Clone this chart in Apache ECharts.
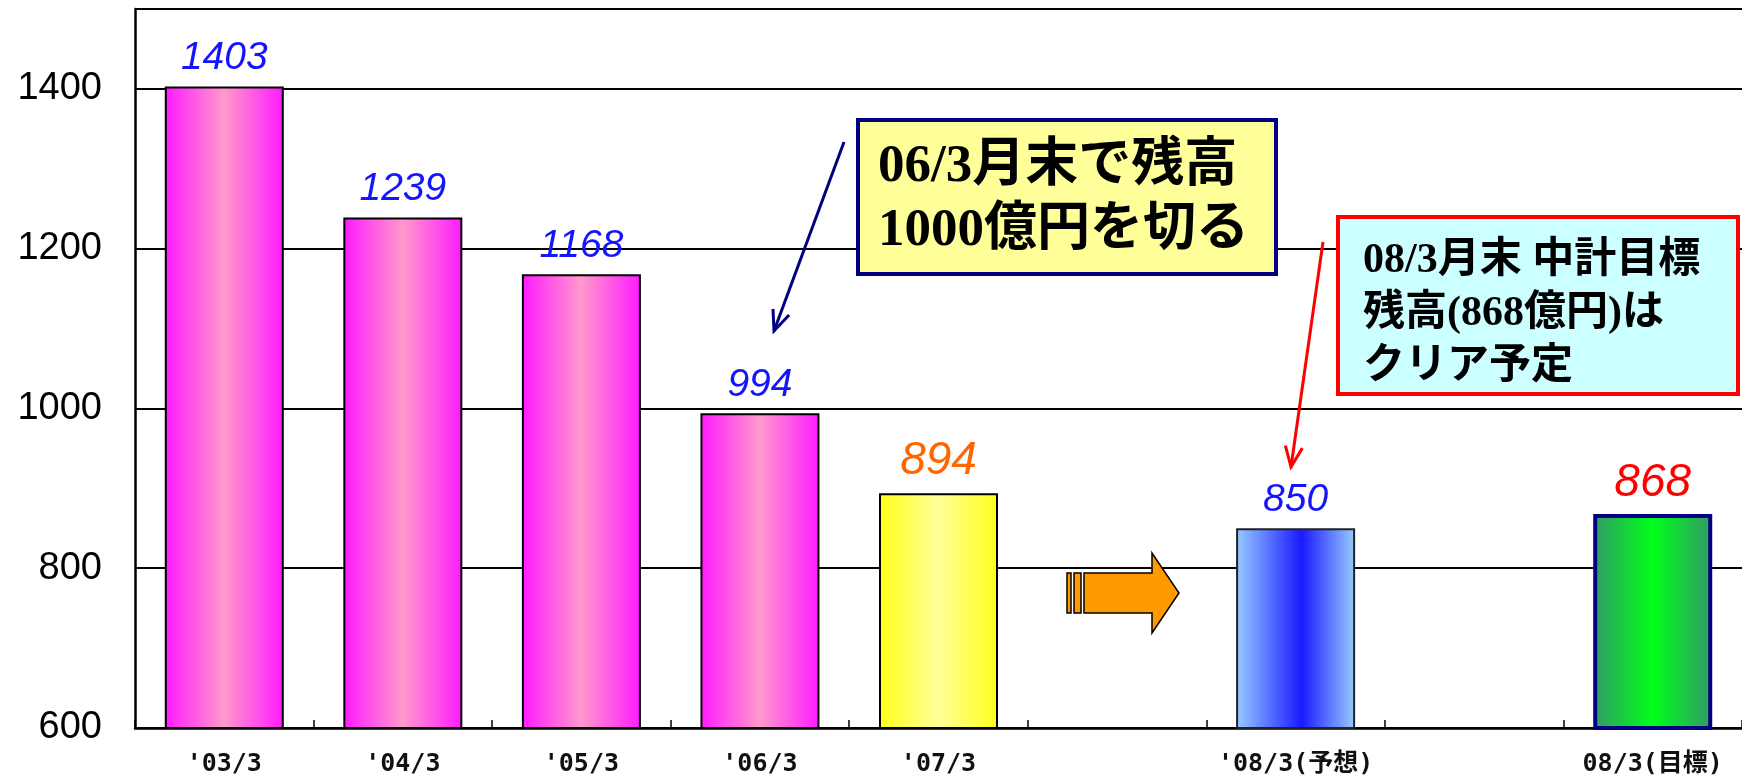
<!DOCTYPE html>
<html>
<head>
<meta charset="utf-8">
<script src="https://cdn.jsdelivr.net/npm/echarts@6/dist/echarts.min.js"></script>
<style>
  html, body { margin: 0; padding: 0; background: #fff; }
  #chart { width: 1742px; height: 783px; }
</style>
</head>
<body>
<div id="chart"></div>
<script>
// 残高（億円）
const categories = ["'03/3", "'04/3", "'05/3", "'06/3", "'07/3", "", "'08/3(予想)", "", "08/3(目標)"];
const balances = [1403, 1239, 1168, 994, 894, '-', 850, '-', 868];
const yTicks = [600, 800, 1000, 1200, 1400];

const note1 = '06/3月末で残高\n1000億円を切る';
const note2 = '08/3月末 中計目標\n残高(868億円)は\nクリア予定';

// horizontal gradient, light/dark in the middle of the bar
const grad = (edge, mid, pos) => new echarts.graphic.LinearGradient(0, 0, 1, 0, [
  { offset: 0, color: edge },
  { offset: pos, color: mid },
  { offset: 1, color: edge }
]);

const pink = { color: grad('#ff1aff', '#ff99cc', 0.5), borderColor: '#000', borderWidth: 2 };
const yellow = { color: grad('#ffff1a', '#ffff99', 0.5), borderColor: '#000', borderWidth: 2 };
const blue = { color: grad('#99ccff', '#1a1aff', 0.55), borderColor: '#222', borderWidth: 2 };
const green = { color: grad('#339966', '#00ff1a', 0.5), borderColor: '#000080', borderWidth: 4 };
const barLooks = [pink, pink, pink, pink, yellow, null, blue, null, green];

const lblBase = { show: true, position: 'top', fontStyle: 'italic', fontFamily: '"Liberation Sans", Arial, sans-serif' };
const lblBlue = { ...lblBase, color: '#1414ff', fontSize: 39, distance: 9 };
const lblOrange = { ...lblBase, color: '#ff6600', fontSize: 46, distance: 9 };
const lblRed = { ...lblBase, color: '#ff0000', fontSize: 46, distance: 8 };
const labelLooks = [lblBlue, lblBlue, lblBlue, lblBlue, lblOrange, null, lblBlue, null, lblRed];

const data = balances.map((v, i) => {
  if (v === '-') return '-';
  return { value: v, itemStyle: barLooks[i], label: labelLooks[i] };
});

// open arrow head at (x2,y2)
function arrowHead(x1, y1, x2, y2, len, ang) {
  const a = Math.atan2(y2 - y1, x2 - x1);
  return [
    [x2 - len * Math.cos(a - ang), y2 - len * Math.sin(a - ang)],
    [x2, y2],
    [x2 - len * Math.cos(a + ang), y2 - len * Math.sin(a + ang)]
  ];
}

const jpFont = '"Liberation Serif", "Noto Sans CJK JP", serif';

let chart = echarts.init(document.getElementById('chart'));
chart.setOption({
  backgroundColor: '#fff',
  animation: false,
  grid: { left: 135, top: 9, width: 1615, bottom: 55, containLabel: false },
  xAxis: {
    type: 'category',
    data: categories,
    axisLine: { lineStyle: { color: '#000', width: 2.5 } },
    axisTick: { show: true, inside: true, length: 8, lineStyle: { color: '#000', width: 1.5 } },
    axisLabel: {
      interval: 0,
      margin: 24,
      color: '#111',
      fontSize: 25,
      fontWeight: 'bold',
      fontFamily: '"DejaVu Sans Mono", "Noto Sans CJK JP", monospace'
    }
  },
  yAxis: {
    type: 'value',
    min: 600,
    max: 1500,
    interval: 200,
    axisLine: { show: true, lineStyle: { color: '#000', width: 2.5 } },
    axisTick: { show: false },
    axisLabel: {
      margin: 33,
      color: '#000',
      fontSize: 38,
      fontFamily: '"Liberation Sans", Arial, sans-serif',
      formatter: v => (yTicks.indexOf(v) >= 0 ? String(v) : '')
    },
    splitLine: { lineStyle: { color: '#000', width: 2 } }
  },
  series: [{
    type: 'bar',
    data: data,
    barWidth: 119
  }],
  graphic: [
    // note 1
    { type: 'line', shape: { x1: 844, y1: 142, x2: 774, y2: 331 }, style: { stroke: '#000080', lineWidth: 3 }, z: 100 },
    { type: 'polyline', shape: { points: arrowHead(844, 142, 774, 331, 22, 0.4) }, style: { stroke: '#000080', lineWidth: 3, fill: null }, z: 100 },
    { type: 'rect', shape: { x: 858, y: 120, width: 418, height: 154 }, style: { fill: '#ffff99', stroke: '#000080', lineWidth: 4 }, z: 100 },
    { type: 'text', x: 878, y: 135, z: 101, style: { text: note1, fill: '#000', fontSize: 53, fontWeight: 'bold', fontFamily: jpFont, lineHeight: 64 } },
    // note 2
    { type: 'line', shape: { x1: 1323, y1: 242, x2: 1291, y2: 467 }, style: { stroke: '#ff0000', lineWidth: 3 }, z: 100 },
    { type: 'polyline', shape: { points: arrowHead(1323, 242, 1291, 467, 22, 0.4) }, style: { stroke: '#ff0000', lineWidth: 3, fill: null }, z: 100 },
    { type: 'rect', shape: { x: 1338, y: 217, width: 400, height: 177 }, style: { fill: '#ccffff', stroke: '#ff0000', lineWidth: 4 }, z: 100 },
    { type: 'text', x: 1363, y: 235, z: 101, style: { text: note2, fill: '#000', fontSize: 42, fontWeight: 'bold', fontFamily: jpFont, lineHeight: 53 } },
    // orange block arrow
    { type: 'rect', shape: { x: 1067, y: 573, width: 4, height: 40 }, style: { fill: '#ff9900', stroke: '#000', lineWidth: 1.5 }, z: 100 },
    { type: 'rect', shape: { x: 1074, y: 573, width: 7, height: 40 }, style: { fill: '#ff9900', stroke: '#000', lineWidth: 1.5 }, z: 100 },
    {
      type: 'polygon',
      shape: { points: [[1084, 573], [1152, 573], [1152, 553], [1179, 593], [1152, 633], [1152, 613], [1084, 613]] },
      style: { fill: '#ff9900', stroke: '#000', lineWidth: 1.5 },
      z: 100
    }
  ]
});
</script>
</body>
</html>
